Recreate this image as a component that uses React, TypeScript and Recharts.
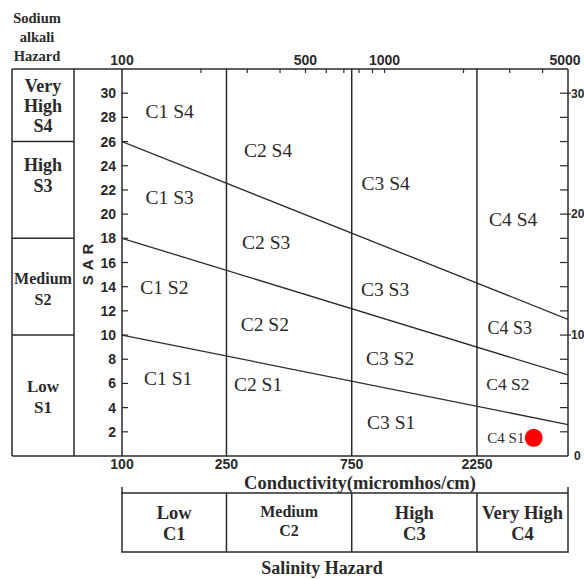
import { ComposedChart, Line, Scatter, XAxis, YAxis, ReferenceLine } from 'recharts';

// conductivity (micromhos/cm) at the two ends of each SAR boundary line
const lineEc = [100, 5000];
const s4s3Sar = [26, 11.3];
const s3s2Sar = [18, 6.7];
const s2s1Sar = [10, 2.6];

// class boundaries on the conductivity axis
const salinityBreaks = [250, 750, 2250];

const topTicks = [100, 200, 300, 400, 500, 600, 700, 800, 900, 1000, 2000, 3000, 4000, 5000];
const topLabels = [100, 500, 1000, 5000];
const bottomTicks = [100, 250, 750, 2250];
const sarTicks = [2, 4, 6, 8, 10, 12, 14, 16, 18, 20, 22, 24, 26, 28, 30];
const rightTicks = [0, 2, 4, 6, 8, 10, 12, 14, 16, 18, 20, 22, 24, 26, 28, 30];
const rightLabels = [0, 10, 20, 30];

// class labels in the diagram
const regionNames = [
  'C1 S4', 'C2 S4', 'C3 S4', 'C4 S4',
  'C1 S3', 'C2 S3', 'C3 S3', 'C4 S3',
  'C1 S2', 'C2 S2', 'C3 S2', 'C4 S2',
  'C1 S1', 'C2 S1', 'C3 S1', 'C4 S1',
];
const regionEc = [
  152, 360, 1010, 3090,
  152, 354, 1005, 3000,
  145, 350, 1050, 2950,
  150, 330, 1060, 2900,
];
const regionSar = [
  28.5, 25.3, 22.6, 19.6,
  21.4, 17.7, 13.8, 10.6,
  14.0, 10.9, 8.1, 6.0,
  6.4, 5.9, 2.8, 1.5,
];

// the water sample
const sampleEc = [3700];
const sampleSar = [1.5];

const sodiumClasses = [
  { lines: ['Very', 'High', 'S4'], from: 26, to: 32 },
  { lines: ['High', 'S3'], from: 18, to: 26 },
  { lines: ['Medium', 'S2'], from: 10, to: 18 },
  { lines: ['Low', 'S1'], from: 0, to: 10 },
];
const salinityClasses = [
  { lines: ['Low', 'C1'], from: 100, to: 250 },
  { lines: ['Medium', 'C2'], from: 250, to: 750 },
  { lines: ['High', 'C3'], from: 750, to: 2250 },
  { lines: ['Very High', 'C4'], from: 2250, to: 5000 },
];

const W = 584;
const H = 579;
const PL = 122;
const PR = 568;
const PT = 69;
const PB = 456;
const Y_MAX = 32;

const xPx = (ec: number) => PL + (Math.log10(ec / 100) / Math.log10(50)) * (PR - PL);
const yPx = (sar: number) => PB - (sar / Y_MAX) * (PB - PT);

const SERIF = '"Liberation Serif", "Times New Roman", serif';
const SANS = '"Liberation Sans", Arial, sans-serif';
const INK = '#2a2a2a';

const mkLine = (vals: number[]) => lineEc.map((ec, i) => ({ ec, sar: vals[i] }));
const regionData = regionNames.map((name, i) => ({ name, ec: regionEc[i], sar: regionSar[i] }));
const sampleData = sampleEc.map((ec, i) => ({ ec, sar: sampleSar[i] }));

const regionSize = (name: string) =>
  name === 'C4 S1' ? 15 : name === 'C4 S2' ? 17.5 : name === 'C4 S3' ? 18 : 19.5;

const LeftTick = (p: any) => (
  <g>
    <line x1={PL} x2={PL + 6} y1={p.y} y2={p.y} stroke={INK} strokeWidth={1.2} />
    <text x={p.x} y={p.y} dy="0.36em" textAnchor="end" fontFamily={SANS} fontWeight="bold" fontSize={14} fill={INK}>
      {p.payload.value}
    </text>
  </g>
);

const RightTick = (p: any) => {
  const v = p.payload.value;
  const labelled = rightLabels.includes(v);
  if (v === 0) {
    return (
      <text x={p.x + 3} y={p.y} dy="0.36em" fontFamily={SANS} fontWeight="bold" fontSize={12} fill={INK}>0</text>
    );
  }
  return (
    <g>
      <line x1={PR - 8} x2={labelled ? PR + 3 : PR} y1={p.y} y2={p.y} stroke={INK} strokeWidth={1.2} />
      {labelled && (
        <text x={p.x} y={p.y} dy="0.36em" fontFamily={SANS} fontWeight="bold" fontSize={12} fill={INK}>
          {v}
        </text>
      )}
    </g>
  );
};

const TopTick = (p: any) => {
  const v = p.payload.value;
  const labelled = topLabels.includes(v);
  return (
    <g>
      {v !== 100 && v !== 5000 && (
        <line x1={p.x} x2={p.x} y1={PT} y2={PT + 4} stroke={INK} strokeWidth={1.2} />
      )}
      {labelled && (
        <text x={v === 5000 ? p.x - 3 : p.x} y={p.y} textAnchor="middle" fontFamily={SANS} fontWeight="bold" fontSize={14} fill={INK}>
          {v}
        </text>
      )}
    </g>
  );
};

const BottomTick = (p: any) => (
  <text x={p.x} y={p.y} dy="0.71em" textAnchor="middle" fontFamily={SANS} fontWeight="bold" fontSize={14} fill={INK}>
    {p.payload.value}
  </text>
);

const RegionLabel = (p: any) => (
  <text x={p.cx} y={p.cy} dy="0.35em" textAnchor="middle" fontFamily={SERIF} fontSize={regionSize(p.payload.name)} fill={INK}>
    {p.payload.name}
  </text>
);

const SampleDot = (p: any) => <circle cx={p.cx} cy={p.cy} r={9} fill="#ff0000" />;

const Frame = () => {
  const sodiumSizes = [18, 18, 16, 17];
  const sodiumFirstY = [86, 165, 278, 386];
  return (
    <svg width={W} height={H} style={{ position: 'absolute', left: 0, top: 0, pointerEvents: 'none' }}>
      <g fontFamily={SERIF} fontWeight="bold" fill={INK} textAnchor="middle">
        <text x={37} y={23} fontSize={14.5}>Sodium</text>
        <text x={37} y={42} fontSize={14.5}>alkali</text>
        <text x={37} y={61} fontSize={14.5}>Hazard</text>
      </g>
      <g stroke={INK} strokeWidth={1.5} fill="none">
        <line x1={12} x2={PL} y1={PT} y2={PT} />
        <line x1={12} x2={PL} y1={PB} y2={PB} />
        <line x1={12} x2={12} y1={PT} y2={PB} />
        <line x1={74} x2={74} y1={PT} y2={PB} />
        {sodiumClasses.slice(1).map((c) => (
          <line key={c.to} x1={12} x2={74} y1={yPx(c.to)} y2={yPx(c.to)} />
        ))}
      </g>
      {sodiumClasses.map((c, i) => {
        const fs = sodiumSizes[i];
        const lh = i === 0 ? 20 : 21;
        return (
          <g key={i} fontFamily={SERIF} fontWeight="bold" fill={INK} textAnchor="middle" fontSize={fs}>
            {c.lines.map((t, j) => (
              <text key={j} x={43} y={sodiumFirstY[i] + j * lh} dy="0.35em">{t}</text>
            ))}
          </g>
        );
      })}
      <text
        x={88}
        y={262}
        transform="rotate(-90 88 262)"
        textAnchor="middle"
        dy="0.35em"
        fontFamily={SANS}
        fontWeight="bold"
        fontSize={15}
        letterSpacing={5}
        fill={INK}
      >
        SAR
      </text>
      <text x={360} y={483} dy="0.35em" textAnchor="middle" fontFamily={SERIF} fontWeight="bold" fontSize={18.5} fill={INK}>
        Conductivity(micromhos/cm)
      </text>
      <g stroke={INK} strokeWidth={1.5} fill="none">
        <rect x={PL} y={493} width={PR - PL} height={59} />
        <line x1={PL} x2={PL} y1={487} y2={493} />
        <line x1={PR} x2={PR} y1={487} y2={493} />
        {salinityBreaks.map((b) => (
          <line key={b} x1={xPx(b)} x2={xPx(b)} y1={493} y2={552} />
        ))}
      </g>
      {salinityClasses.map((c, i) => {
        const cx = (xPx(c.from) + xPx(c.to)) / 2;
        const fs = i === 1 ? 16 : 18.5;
        return (
          <g key={i} fontFamily={SERIF} fontWeight="bold" fill={INK} textAnchor="middle" fontSize={fs}>
            <text x={cx} y={i === 1 ? 511 : 513} dy="0.35em">{c.lines[0]}</text>
            <text x={cx} y={i === 1 ? 530 : 534} dy="0.35em">{c.lines[1]}</text>
          </g>
        );
      })}
      <text x={322} y={568} dy="0.35em" textAnchor="middle" fontFamily={SERIF} fontWeight="bold" fontSize={18} fill={INK}>
        Salinity Hazard
      </text>
    </svg>
  );
};

export default function App() {
  return (
    <div style={{ position: 'absolute', left: 0, top: 0, width: W, height: H, background: '#fff' }}>
      <ComposedChart width={W} height={H} margin={{ top: PT - 20, right: W - PR - 16, bottom: H - PB - 20, left: 74 }}>
        <XAxis
          xAxisId="bottom"
          dataKey="ec"
          type="number"
          scale="log"
          domain={[100, 5000]}
          allowDataOverflow
          ticks={bottomTicks}
          interval={0}
          orientation="bottom"
          height={20}
          axisLine={{ stroke: INK, strokeWidth: 1.5 }}
          tickLine={false}
          tickSize={0}
          tickMargin={3}
          tick={BottomTick}
        />
        <XAxis
          xAxisId="top"
          dataKey="ec"
          type="number"
          scale="log"
          domain={[100, 5000]}
          allowDataOverflow
          ticks={topTicks}
          interval={0}
          orientation="top"
          height={20}
          axisLine={{ stroke: INK, strokeWidth: 1.5 }}
          tickLine={false}
          tickSize={0}
          tickMargin={4}
          tick={TopTick}
        />
        <YAxis
          yAxisId="left"
          type="number"
          domain={[0, Y_MAX]}
          allowDataOverflow
          ticks={sarTicks}
          interval={0}
          width={48}
          axisLine={{ stroke: INK, strokeWidth: 1.5 }}
          tickLine={false}
          tickSize={0}
          tickMargin={6}
          tick={LeftTick}
        />
        <YAxis
          yAxisId="right"
          orientation="right"
          type="number"
          domain={[0, Y_MAX]}
          allowDataOverflow
          ticks={rightTicks}
          interval={0}
          width={16}
          axisLine={{ stroke: INK, strokeWidth: 1.5 }}
          tickLine={false}
          tickSize={0}
          tickMargin={3}
          tick={RightTick}
        />
        {salinityBreaks.map((b) => (
          <ReferenceLine key={b} x={b} xAxisId="bottom" yAxisId="left" stroke={INK} strokeWidth={1.5} />
        ))}
        {[s4s3Sar, s3s2Sar, s2s1Sar].map((vals, i) => (
          <Line
            key={i}
            data={mkLine(vals)}
            xAxisId="bottom"
            yAxisId="left"
            dataKey="sar"
            stroke={INK}
            strokeWidth={1.3}
            dot={false}
            activeDot={false}
            isAnimationActive={false}
          />
        ))}
        <Scatter
          data={regionData}
          xAxisId="top"
          yAxisId="right"
          dataKey="sar"
          shape={RegionLabel}
          isAnimationActive={false}
        />
        <Scatter
          data={sampleData}
          xAxisId="bottom"
          yAxisId="left"
          dataKey="sar"
          shape={SampleDot}
          isAnimationActive={false}
        />
      </ComposedChart>
      <Frame />
    </div>
  );
}
